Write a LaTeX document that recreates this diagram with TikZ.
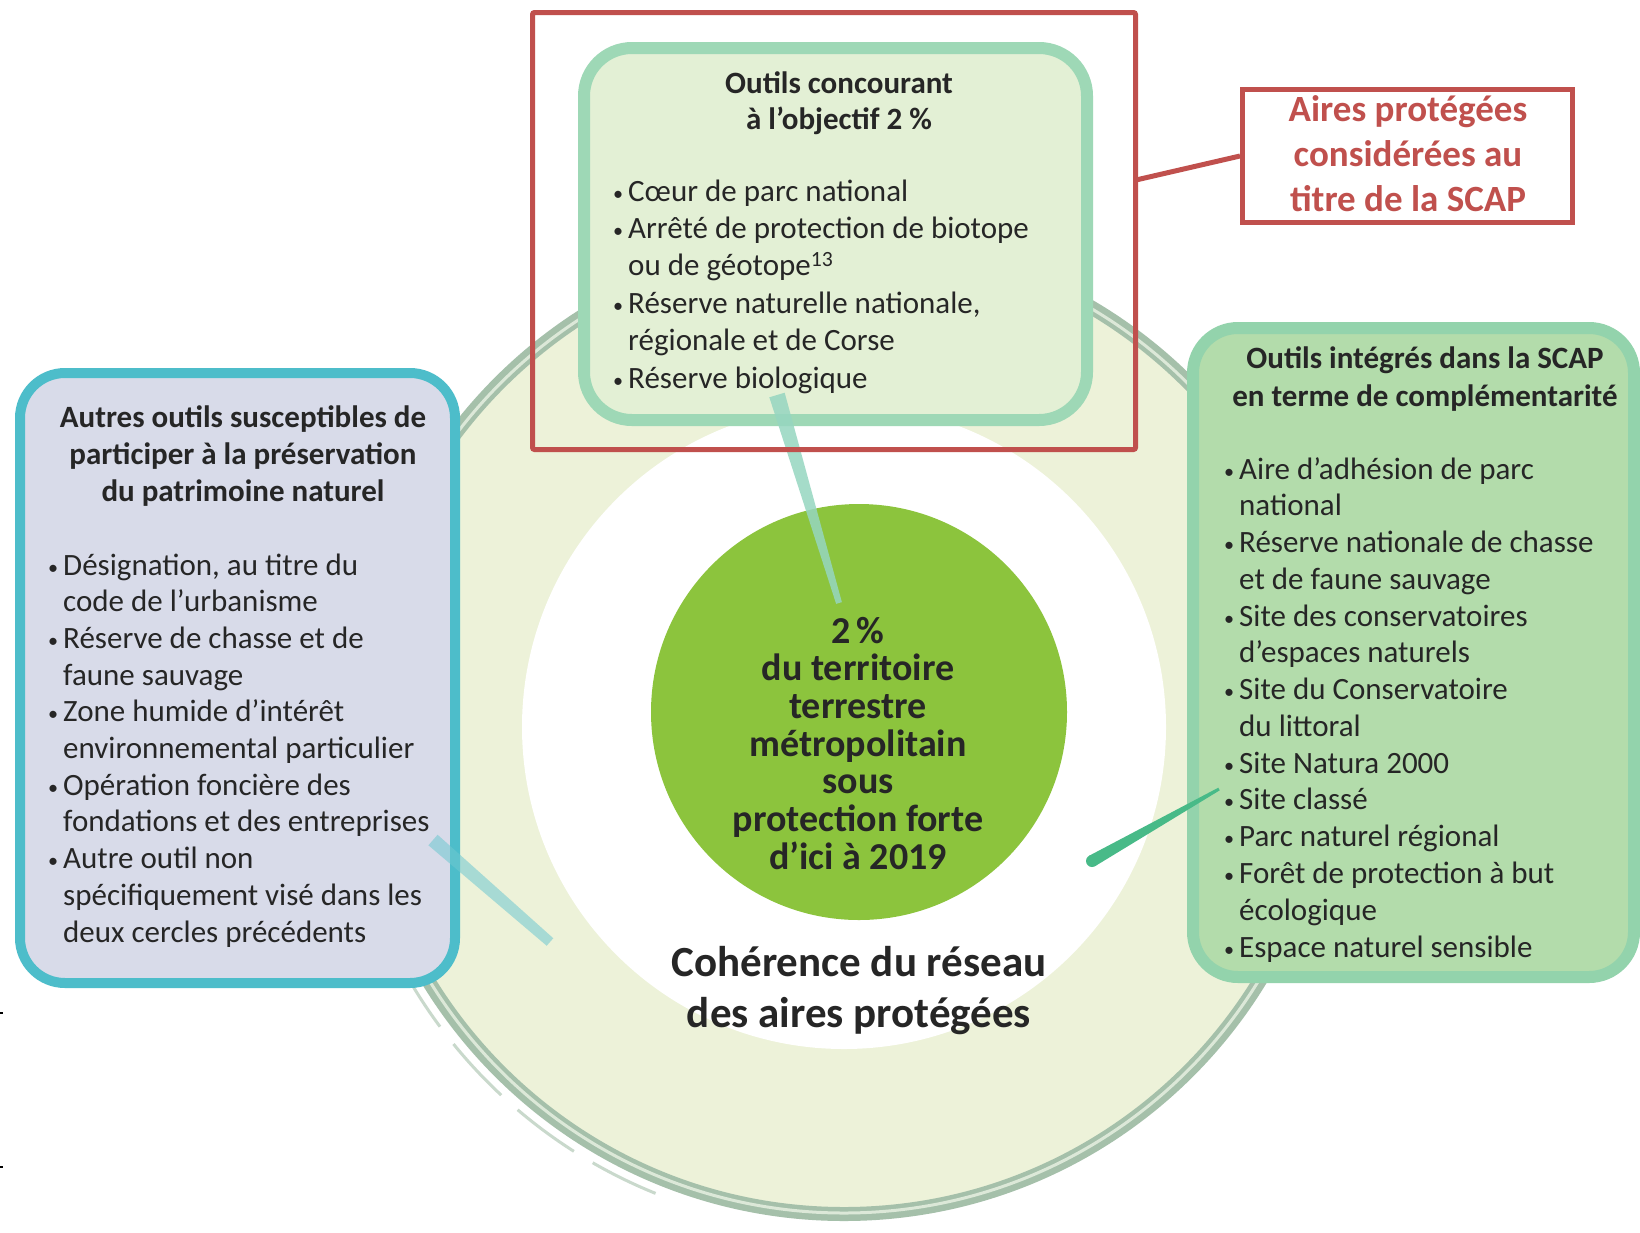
\documentclass[tikz,border=0pt]{standalone}
\usepackage{fontspec}
\setmainfont{Carlito}
\usetikzlibrary{calc}
\definecolor{outerc}{RGB}{237,242,217}
\definecolor{ringc}{RGB}{165,192,170}
\definecolor{ringhi}{RGB}{220,232,216}
\definecolor{corec}{RGB}{140,196,61}
\definecolor{topfill}{RGB}{227,240,213}
\definecolor{topbd}{RGB}{158,216,182}
\definecolor{leftfill}{RGB}{216,219,233}
\definecolor{leftbd}{RGB}{77,189,202}
\definecolor{rightfill}{RGB}{179,220,171}
\definecolor{rightbd}{RGB}{147,211,172}
\definecolor{redc}{RGB}{192,80,77}
\definecolor{textc}{RGB}{38,38,38}
\definecolor{conA}{RGB}{150,214,192}
\definecolor{conB}{RGB}{110,200,208}
\definecolor{conC}{RGB}{72,186,136}
\newcommand\fs[2]{\fontsize{#1}{#2}\selectfont}
\newcommand\bul{\llap{\raisebox{1pt}{\scalebox{0.65}{\textbullet}}\hspace{5pt}}}
\newcommand\txtblock[6]{\foreach \t [count=\i from 0] in {#6} {\node[#2] (#1\i) at (#3, {#4+\i*#5}) {\t};}}
\newcommand\taper[5]{\fill[#5] ($(#1)!#3!90:(#2)$) -- ($(#2)!#4!-90:(#1)$) -- ($(#2)!#4!90:(#1)$) -- ($(#1)!#3!-90:(#2)$) -- cycle;}
\tikzset{
  listtxt/.style={anchor=base west, inner sep=0pt, text=textc, font=\fs{31}{37}},
  titletxt/.style={anchor=base, inner sep=0pt, text=textc, font=\fs{31}{37}\bfseries},
  coretxt/.style={anchor=base, inner sep=0pt, text=textc, font=\fs{38}{38}\bfseries},
  boxshape/.style={rectangle, inner sep=0pt},
}
\begin{document}
\begin{tikzpicture}[x=1pt,y=-1pt]
\useasboundingbox (0,0) rectangle (1640,1232);
\fill[white] (0,0) rectangle (1640,1232);
% circles
\node[circle, inner sep=0pt, minimum size=974pt, fill=outerc, draw=ringc, line width=14pt] (ring) at (844,727) {};
\draw[ringhi, line width=3pt] (ring.center) circle[radius=486];
\draw[ringc!60, line width=3pt, dash pattern=on 70pt off 22pt] ($(ring.center)+(112:503)$) arc[start angle=112, end angle=158, radius=503];
\node[circle, inner sep=0pt, minimum size=644pt, fill=white] (inner) at (844,727) {};
\node[circle, inner sep=0pt, minimum size=416pt, fill=corec] (core) at (859,712) {};
% boxes
\node[boxshape, fill=topfill, draw=topbd, line width=12pt, rounded corners=48pt, minimum width=503pt, minimum height=372pt] (topbox) at (835.5,234) {};
\node[boxshape, fill=leftfill, draw=leftbd, line width=10pt, rounded corners=45pt, minimum width=435pt, minimum height=610pt] (leftbox) at (237.5,678) {};
\node[boxshape, fill=rightfill, draw=rightbd, line width=12pt, rounded corners=45pt, minimum width=441pt, minimum height=649pt] (rightbox) at (1413.5,652.5) {};
% brush connectors
\coordinate (k1a) at (777,395);
\coordinate (k1b) at (839,603);
\taper{k1a}{k1b}{8pt}{3pt}{conA, opacity=0.85}
\coordinate (k2a) at (433,840);
\coordinate (k2b) at (550,942);
\taper{k2a}{k2b}{7pt}{5pt}{conB, opacity=0.55}
\coordinate (k3a) at (1219,789);
\coordinate (k3b) at (1092,861);
\taper{k3a}{k3b}{1.5pt}{6pt}{conC}
\fill[conC] (k3b) circle[radius=6];
% red frame and callout
\node[boxshape, draw=redc, line width=5pt, rounded corners=2pt, minimum width=603pt, minimum height=437pt] (redframe) at (834,231) {};
\node[boxshape, draw=redc, fill=white, line width=5pt, minimum width=330pt, minimum height=133pt] (scap) at (1407.5,156) {};
\coordinate (rfpt) at (1136,180);
\draw[redc, line width=5pt] (rfpt) -- (scap.west);
% texts
\txtblock{tt}{titletxt}{839}{93}{36}{{Outils concourant},{à l’objectif 2 \%}}
\txtblock{tl}{listtxt}{628}{201}{37.4}{{\bul Cœur de parc national},{\bul Arrêté de protection de biotope},{ou de géotope\textsuperscript{13}},{\bul Réserve naturelle nationale,},{régionale et de Corse},{\bul Réserve biologique}}
\txtblock{lt}{titletxt}{243}{427}{37}{{Autres outils susceptibles de},{participer à la préservation},{du patrimoine naturel}}
\txtblock{ll}{listtxt}{63}{575}{36.7}{{\bul Désignation, au titre du},{code de l’urbanisme},{\bul Réserve de chasse et de},{faune sauvage},{\bul Zone humide d’intérêt},{environnemental particulier},{\bul Opération foncière des},{fondations et des entreprises},{\bul Autre outil non},{spécifiquement visé dans les},{deux cercles précédents}}
\txtblock{rt}{titletxt}{1425}{368}{38}{{Outils intégrés dans la SCAP},{en terme de complémentarité}}
\txtblock{rl}{listtxt}{1239}{479}{36.77}{{\bul Aire d’adhésion de parc},{national},{\bul Réserve nationale de chasse},{et de faune sauvage},{\bul Site des conservatoires},{d’espaces naturels},{\bul Site du Conservatoire},{du littoral},{\bul Site Natura 2000},{\bul Site classé},{\bul Parc naturel régional},{\bul Forêt de protection à but},{écologique},{\bul Espace naturel sensible}}
\txtblock{ct}{coretxt}{858}{643}{37.7}{{2\,\%},{du territoire},{terrestre},{métropolitain},{sous},{protection forte},{d’ici à 2019}}
\txtblock{co}{{anchor=base, inner sep=0pt, text=textc, font=\fs{43}{50}\bfseries}}{859}{976}{51}{{Cohérence du réseau},{des aires protégées}}
\txtblock{sc}{{anchor=base, inner sep=0pt, text=redc, font=\fs{37}{45}\bfseries}}{1408}{121}{45}{{Aires protégées},{considérées au},{titre de la SCAP}}
% edge ticks
\draw[black, line width=1.5pt] (0,1013) -- (3,1013);
\draw[black, line width=1.5pt] (0,1167) -- (3,1167);
\end{tikzpicture}
\end{document}
